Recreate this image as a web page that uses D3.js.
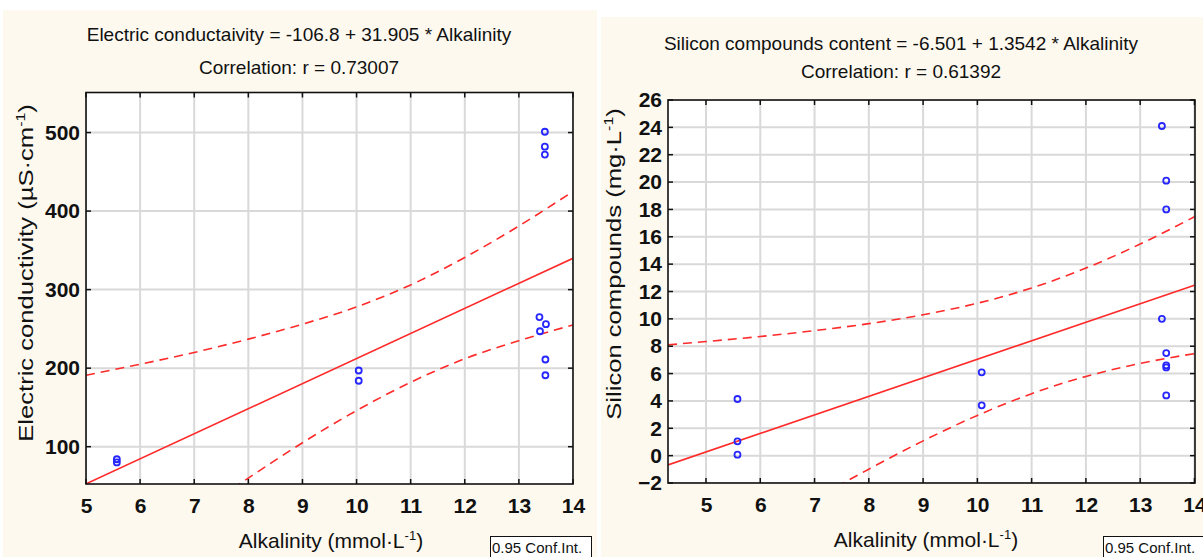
<!DOCTYPE html>
<html>
<head>
<meta charset="utf-8">
<script src="https://cdn.jsdelivr.net/npm/d3@7"></script>
<style>
  html, body { margin: 0; padding: 0; background: #fff; }
  svg { display: block; font-family: "Liberation Sans", Arial, sans-serif; }
  .grid line { stroke: #d9d9d9; stroke-width: 2; }
  .tick-label { font-size: 21px; font-weight: bold; fill: #111; }
  .title { font-size: 19px; fill: #111; }
  .axis-title { font-size: 21px; fill: #111; }
  .fit { fill: none; stroke: #ff2a2a; stroke-width: 1.6; }
  .band { fill: none; stroke: #ff2a2a; stroke-width: 1.6; stroke-dasharray: 9 6; }
  .dot { fill: none; stroke: #2626ff; stroke-width: 1.8; }
</style>
</head>
<body>
<div id="chart"></div>
<script>
// left panel: electric conductivity
const ecAlkalinity = [5.57, 5.57, 10.04, 10.04, 13.48, 13.48, 13.48, 13.38, 13.5, 13.39, 13.49, 13.49];
const ecValues = [84, 80, 197, 184, 501, 482, 472, 265, 256, 247, 211, 191];
const ecFitX = [5, 14];
const ecFit = [52.7, 339.9];
const ecBandX = [5, 6, 7, 8, 9, 10, 11, 12, 13, 14];
const ecUpper = [191, 205, 220, 237, 256, 278, 306, 341, 381, 425];
const ecLower = [-86, -36, 13, 60, 105, 146, 182, 212, 235, 255];
const ecXTicks = [5, 6, 7, 8, 9, 10, 11, 12, 13, 14];
const ecYTicks = [100, 200, 300, 400, 500];

// right panel: silicon compounds
const siAlkalinity = [5.58, 5.58, 5.58, 10.08, 10.08, 13.4, 13.48, 13.48, 13.4, 13.48, 13.48, 13.48, 13.48];
const siValues = [4.14, 1.05, 0.07, 6.09, 3.68, 24.1, 20.1, 18.0, 10.0, 7.5, 6.6, 6.45, 4.4];
const siFitX = [4.3, 14];
const siFit = [-0.68, 12.46];
const siBandX = [4.3, 5, 6, 7, 8, 9, 10, 11, 12, 13, 14];
const siUpper = [8.1, 8.34, 8.71, 9.14, 9.65, 10.3, 11.14, 12.26, 13.71, 15.47, 17.46];
const siLower = [-9.46, -7.8, -5.46, -3.18, -0.99, 1.08, 2.94, 4.53, 5.79, 6.74, 7.46];
const siXTicks = [5, 6, 7, 8, 9, 10, 11, 12, 13, 14];
const siYTicks = [-2, 0, 2, 4, 6, 8, 10, 12, 14, 16, 18, 20, 22, 24, 26];

const svg = d3.select('#chart').append('svg')
  .attr('width', 1203)
  .attr('height', 557);

class Chart {
  constructor(root, options) {
    this.o = options;
    this.g = root.append('g').attr('class', options.id);
    this.setupUtils();
    this.setupDOM();
  }

  setupUtils() {
    const o = this.o;
    this.x = d3.scaleLinear().domain(o.xDomain).range([o.left, o.right]);
    this.y = d3.scaleLinear().domain(o.yDomain).range([o.bottom, o.top]);
    this.line = d3.line()
      .x((d) => this.x(d[0]))
      .y((d) => this.y(d[1]));
    this.curve = d3.line()
      .curve(d3.curveMonotoneX)
      .x((d) => this.x(d[0]))
      .y((d) => this.y(d[1]));
  }

  setupDOM() {
    const o = this.o;
    this.g.append('rect')
      .attr('x', o.panel[0]).attr('y', o.panel[1])
      .attr('width', o.panel[2]).attr('height', o.panel[3])
      .attr('fill', '#fdf9ef');

    this.g.append('clipPath').attr('id', `clip-${o.id}`)
      .append('rect')
      .attr('x', o.left).attr('y', o.top)
      .attr('width', o.right - o.left).attr('height', o.bottom - o.top);

    this.g.append('rect')
      .attr('x', o.left).attr('y', o.top)
      .attr('width', o.right - o.left).attr('height', o.bottom - o.top)
      .attr('fill', '#fff');

    this.plot = this.g.append('g').attr('clip-path', `url(#clip-${o.id})`);
  }

  draw(d) {
    const o = this.o;
    const grid = this.plot.append('g').attr('class', 'grid');
    grid.selectAll('.gx').data(d.xTicks).join('line')
      .attr('x1', (v) => this.x(v)).attr('x2', (v) => this.x(v))
      .attr('y1', o.top).attr('y2', o.bottom);
    grid.selectAll('.gy').data(d.yTicks).join('line')
      .attr('class', 'gy')
      .attr('x1', o.left).attr('x2', o.right)
      .attr('y1', (v) => this.y(v)).attr('y2', (v) => this.y(v));

    this.plot.append('path')
      .attr('class', 'band')
      .attr('d', this.curve(d.bandX.map((v, i) => [v, d.upper[i]])));
    this.plot.append('path')
      .attr('class', 'band')
      .attr('d', this.curve(d.bandX.map((v, i) => [v, d.lower[i]])));
    this.plot.append('path')
      .attr('class', 'fit')
      .attr('d', this.line(d.fitX.map((v, i) => [v, d.fit[i]])));

    this.plot.selectAll('.dot')
      .data(d.xs.map((v, i) => [v, d.ys[i]]))
      .join('circle')
      .attr('class', 'dot')
      .attr('r', 3)
      .attr('cx', (p) => this.x(p[0]))
      .attr('cy', (p) => this.y(p[1]));

    // axes: labels on bottom/left, inward tick marks on all sides
    const ax = this.g.append('g');
    ax.append('g')
      .attr('transform', `translate(0,${o.bottom})`)
      .call(d3.axisBottom(this.x).tickValues(d.xTicks).tickSize(0).tickPadding(14));
    ax.append('g')
      .attr('transform', `translate(${o.left},0)`)
      .call(d3.axisLeft(this.y).tickValues(d.yTicks).tickSize(0).tickPadding(6));
    ax.selectAll('.domain').remove();
    ax.selectAll('text')
      .attr('class', 'tick-label')
      .attr('font-size', null)
      .attr('font-family', null)
      .attr('fill', null);

    const marks = this.g.append('g').attr('stroke', '#111').attr('stroke-width', 1.5);
    [o.top, o.bottom].forEach((yy, k) => {
      marks.selectAll(null).data(d.xTicks).join('line')
        .attr('x1', (v) => this.x(v)).attr('x2', (v) => this.x(v))
        .attr('y1', yy).attr('y2', k ? yy - 5 : yy + 5);
    });
    [o.left, o.right].forEach((xx, k) => {
      marks.selectAll(null).data(d.yTicks).join('line')
        .attr('y1', (v) => this.y(v)).attr('y2', (v) => this.y(v))
        .attr('x1', xx).attr('x2', k ? xx - 5 : xx + 5);
    });

    this.g.append('rect')
      .attr('x', o.left).attr('y', o.top)
      .attr('width', o.right - o.left).attr('height', o.bottom - o.top)
      .attr('fill', 'none').attr('stroke', '#111').attr('stroke-width', 1.6);

    // titles
    o.title.forEach((t, i) => {
      this.g.append('text').attr('class', 'title')
        .attr('x', o.titleX).attr('y', o.titleY[i])
        .attr('text-anchor', 'middle').text(t);
    });

    const xt = this.g.append('text').attr('class', 'axis-title')
      .attr('x', o.xTitle[0]).attr('y', o.xTitle[1]).attr('text-anchor', 'middle');
    xt.append('tspan').text('Alkalinity (mmol·L');
    xt.append('tspan').attr('dy', -8).attr('font-size', 13).text('-1');
    xt.append('tspan').attr('dy', 8).text(')');

    const yt = this.g.append('text').attr('class', 'axis-title')
      .attr('transform', `translate(${o.yTitle[0]},${o.yTitle[1]}) rotate(-90) scale(1.22,1)`)
      .attr('text-anchor', 'middle');
    yt.append('tspan').text(o.yLabel);
    yt.append('tspan').attr('dy', -8).attr('font-size', 13).text('-1');
    yt.append('tspan').attr('dy', 8).text(')');

    const box = this.g.append('g');
    box.append('rect')
      .attr('x', o.legend[0] + 0.5).attr('y', o.legend[1] + 0.5)
      .attr('width', 101).attr('height', 22)
      .attr('fill', '#fff').attr('stroke', '#111').attr('stroke-width', 1);
    box.append('text')
      .attr('x', o.legend[0] + 2).attr('y', o.legend[1] + 17)
      .attr('font-size', 15).attr('fill', '#111')
      .text('0.95 Conf.Int.');
  }
}

const left = new Chart(svg, {
  id: 'ec',
  panel: [3, 10, 594, 547],
  left: 86, right: 573, top: 92.5, bottom: 484,
  xDomain: [5, 14], yDomain: [52.5, 551],
  title: ['Electric conductaivity = -106.8 + 31.905 * Alkalinity', 'Correlation: r = 0.73007'],
  titleX: 299, titleY: [41, 74],
  xTitle: [331, 548], yTitle: [33, 273],
  yLabel: 'Electric conductivity (µS·cm',
  legend: [490, 536],
});
left.draw({
  xs: ecAlkalinity, ys: ecValues,
  fitX: ecFitX, fit: ecFit,
  bandX: ecBandX, upper: ecUpper, lower: ecLower,
  xTicks: ecXTicks, yTicks: ecYTicks,
});

const right = new Chart(svg, {
  id: 'si',
  panel: [601, 17, 602, 540],
  left: 668, right: 1195, top: 100, bottom: 483,
  xDomain: [4.3, 14.01], yDomain: [-2, 26],
  title: ['Silicon compounds content = -6.501 + 1.3542 * Alkalinity', 'Correlation: r = 0.61392'],
  titleX: 901, titleY: [50, 78],
  xTitle: [926, 547], yTitle: [621, 264],
  yLabel: 'Silicon compounds (mg·L',
  legend: [1103, 536],
});
right.draw({
  xs: siAlkalinity, ys: siValues,
  fitX: siFitX, fit: siFit,
  bandX: siBandX, upper: siUpper, lower: siLower,
  xTicks: siXTicks, yTicks: siYTicks,
});
</script>
</body>
</html>
